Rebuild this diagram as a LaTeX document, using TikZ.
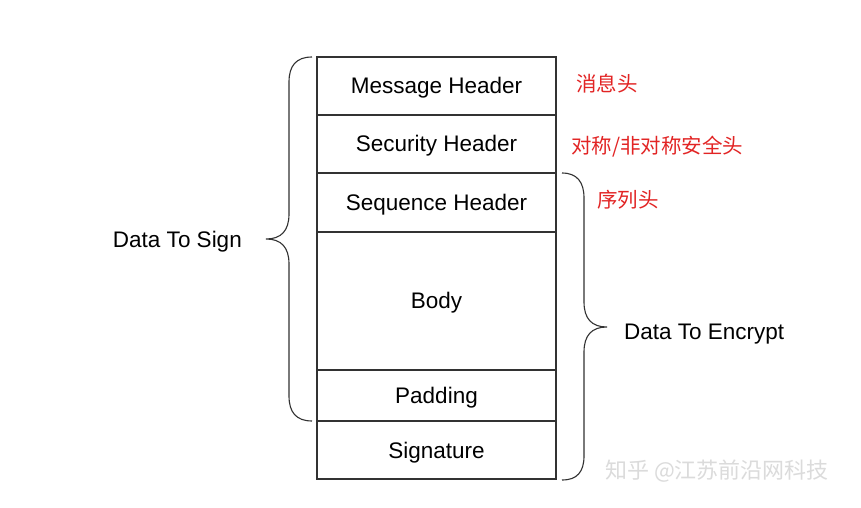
\documentclass[tikz,border=0pt]{standalone}
\usepackage{fontspec}
\setmainfont{Liberation Sans}
\newfontfamily\cjk{Noto Sans CJK SC}
\usetikzlibrary{calc}
\definecolor{lbred}{RGB}{226,36,36}
\definecolor{lineg}{RGB}{50,50,50}
\begin{document}
\begin{tikzpicture}[x=1bp,y=-1bp,
  row/.style={draw=lineg,line width=1.1bp,minimum width=239bp,inner sep=0pt,outer sep=0pt,
    text height=16bp,text depth=0pt,
    font=\fontsize{22.5bp}{27bp}\selectfont},
  lbl/.style={inner sep=0pt,text height=16bp,text depth=0pt,font=\fontsize{22.5bp}{27bp}\selectfont},
  zh/.style={inner sep=0pt,text=lbred,font=\cjk\fontsize{20.5bp}{24bp}\selectfont},
  brace/.style={draw=lineg,line width=1.1bp},
  wm/.style={inner sep=0pt,text=gray!28,font=\cjk\fontsize{22bp}{26bp}\selectfont}]
\fill[white] (0,0) rectangle (861,508);
\useasboundingbox (0,0) rectangle (861,508);

% rows
\node[row,minimum height=58bp] (r1) at (436.5,86) {Message Header};
\node[row,minimum height=58bp] (r2) at (436.5,144) {Security Header};
\node[row,minimum height=59bp] (r3) at (436.5,202.5) {Sequence Header};
\node[row,minimum height=138bp] (r4) at (436.5,301) {Body};
\node[row,minimum height=51bp] (r5) at (436.5,395.5) {Padding};
\node[row,minimum height=58bp] (r6) at (436.5,450) {Signature};

% left brace (Data To Sign)
\coordinate (lt) at ($(r1.north west)+(-5,0)$);
\coordinate (lb) at ($(r5.south west)+(-5,0)$);
\coordinate (ltip) at (266,239);
\draw[brace] (lt) .. controls (296,57) and (289,66) .. (289,82) -- (289,214)
  .. controls (289,231) and (281,239) .. (ltip)
  .. controls (281,239) and (289,247) .. (289,264) -- (289,396)
  .. controls (289,412) and (296,421) .. (lb);
\node[lbl,anchor=east] (sign) at ($(ltip)+(-24,1)$) {Data To Sign};

% right brace (Data To Encrypt)
\coordinate (rt) at ($(r3.north east)+(6,0)$);
\coordinate (rb) at ($(r6.south east)+(6,1)$);
\coordinate (rtip) at (607,327);
\draw[brace] (rt) .. controls (577,173) and (584,182) .. (584,198) -- (584,302)
  .. controls (584,319) and (592,327) .. (rtip)
  .. controls (592,327) and (584,335) .. (584,352) -- (584,456)
  .. controls (584,472) and (577,480) .. (rb);
\node[lbl,anchor=west] (enc) at ($(rtip)+(17,4)$) {Data To Encrypt};

% Chinese annotations
\node[zh,anchor=west] (z1) at (576,84) {消息头};
\node[zh,anchor=west] (z2) at (571,146.5) {对称/非对称安全头};
\node[zh,anchor=west] (z3) at (597,199.5) {序列头};

% watermark
\node[wm,anchor=west] (wm) at (605,471) {知乎 @江苏前沿网科技};
\end{tikzpicture}
\end{document}
